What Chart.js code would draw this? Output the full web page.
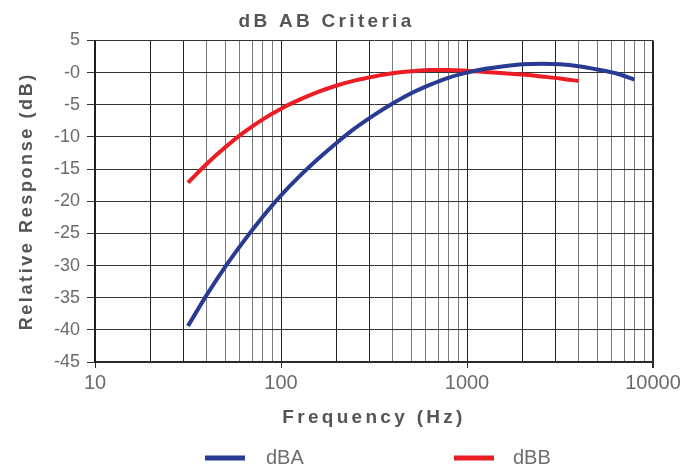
<!DOCTYPE html>
<html>
<head>
<meta charset="utf-8">
<script src="https://cdn.jsdelivr.net/npm/chart.js@4.4.1/dist/chart.umd.min.js"></script>
<style>
  html, body { margin: 0; padding: 0; background: #ffffff; }
  #wrap { width: 690px; height: 466px; }
</style>
</head>
<body>
<div id="wrap"><canvas id="c" width="690" height="466"></canvas></div>
<script>
// ---- data ----
const chartTitle = "dB AB Criteria";
const xTitle = "Frequency (Hz)";
const yTitle = "Relative Response (dB)";
const seriesNames = ["dBA", "dBB"];
const freqA = [31.62, 39.81, 50.12, 63.10, 79.43, 100, 125.9, 158.5, 199.5, 251.2, 316.2, 398.1, 501.2, 631.0, 794.3, 1000, 1259, 1585, 1995, 2512, 3162, 3981, 5012, 6310, 7943];
const valuesA = [-39.4, -34.6, -30.2, -26.2, -22.5, -19.1, -16.1, -13.4, -10.9, -8.6, -6.6, -4.8, -3.2, -1.9, -0.8, 0.0, 0.6, 1.0, 1.3, 1.4, 1.3, 1.0, 0.5, -0.1, -1.1];
const freqB = [31.62, 39.81, 50.12, 63.10, 79.43, 100, 125.9, 158.5, 199.5, 251.2, 316.2, 398.1, 501.2, 631.0, 794.3, 1000, 1259, 1585, 1995, 2512, 3162, 3981];
const valuesB = [-17.1, -14.2, -11.6, -9.3, -7.3, -5.6, -4.2, -3.0, -2.0, -1.2, -0.6, -0.1, 0.2, 0.4, 0.4, 0.3, 0.1, -0.1, -0.3, -0.6, -0.9, -1.3];
const xGridValues = [10,20,30,40,50,60,70,80,90,100,200,300,400,500,600,700,800,900,1000,2000,3000,4000,5000,6000,7000,8000,9000,10000];
const xLabelValues = [10, 100, 1000, 10000];
const yMin = -45, yMax = 5, yStep = 5;
const colors = ["#283a92", "#ec1c24"];

// ---- letter spacing for bold (title) text ----
const canvas = document.getElementById('c');
const ctx = canvas.getContext('2d');
function spacingFor(font) {
  if (!/bold/.test(font)) return '0px';
  return /18px/.test(font) ? '2.6px' : '3.3px';
}
const origFill = ctx.fillText;
ctx.fillText = function () { this.letterSpacing = spacingFor(this.font); return origFill.apply(this, arguments); };
const origMeasure = ctx.measureText;
ctx.measureText = function () { this.letterSpacing = spacingFor(this.font); return origMeasure.apply(this, arguments); };

const FONT = "'Liberation Sans', Arial, Helvetica, sans-serif";

const legendPlugin = {
  id: 'bottomLegend',
  afterDraw(chart) {
    const c = chart.ctx;
    const cx = (chart.chartArea.left + chart.chartArea.right) / 2;
    const y = 458;
    const items = [
      { box: cx - 169, text: cx - 108 },
      { box: cx + 80, text: cx + 139 }
    ];
    chart.data.datasets.forEach((ds, i) => {
      const it = items[i];
      c.save();
      c.fillStyle = ds.borderColor;
      c.fillRect(it.box, y - 2.5, 40, 5);
      c.font = "20px " + FONT;
      c.fillStyle = "#6e6e6e";
      c.textBaseline = 'middle';
      c.textAlign = 'left';
      c.fillText(ds.label, it.text, y);
      c.restore();
    });
  }
};

function isMajorDark(v) {
  const m = v / Math.pow(10, Math.floor(Math.log10(v) + 1e-9));
  return Math.abs(m - 1) < 1e-6 || Math.abs(m - 2) < 1e-6 || Math.abs(m - 3) < 1e-6;
}

new Chart(ctx, {
  type: 'line',
  data: {
    datasets: [
      {
        label: seriesNames[0],
        data: freqA.map((f, i) => ({ x: f, y: valuesA[i] })),
        borderColor: colors[0],
        backgroundColor: colors[0],
        borderWidth: 4,
        pointRadius: 0,
        cubicInterpolationMode: 'monotone',
        fill: false
      },
      {
        label: seriesNames[1],
        data: freqB.map((f, i) => ({ x: f, y: valuesB[i] })),
        borderColor: colors[1],
        backgroundColor: colors[1],
        borderWidth: 4,
        pointRadius: 0,
        cubicInterpolationMode: 'monotone',
        fill: false
      }
    ]
  },
  options: {
    responsive: false,
    animation: false,
    devicePixelRatio: 1,
    layout: { padding: { left: 0, right: 37, top: 0, bottom: 30 } },
    plugins: {
      legend: { display: false },
      tooltip: { enabled: false },
      title: {
        display: true,
        text: chartTitle,
        color: '#555555',
        font: { family: FONT, size: 19, weight: 'bold' },
        padding: { top: 10, bottom: 7.7 }
      }
    },
    scales: {
      x: {
        type: 'logarithmic',
        min: 10,
        max: 10000,
        afterBuildTicks(scale) {
          scale.ticks = xGridValues.map(v => ({ value: v, major: xLabelValues.includes(v) }));
        },
        afterFit(scale) { scale.height = 74; },
        ticks: {
          autoSkip: false,
          maxRotation: 0,
          minRotation: 0,
          padding: 3,
          color: '#6b6b6b',
          font: { family: FONT, size: 20 },
          callback(value) { return xLabelValues.includes(value) ? String(value) : ''; }
        },
        grid: {
          color(ctx2) { const v = ctx2.tick ? ctx2.tick.value : 0; return isMajorDark(v) ? '#222222' : '#7a7a7a'; },
          lineWidth(ctx2) { const v = ctx2.tick ? ctx2.tick.value : 0; return v === 10000 ? 2 : 1; },
          tickColor(ctx2) { const v = ctx2.tick ? ctx2.tick.value : 0; return xLabelValues.includes(v) ? '#2a2a2a' : 'rgba(0,0,0,0)'; },
          tickLength: 6,
          drawTicks: true
        },
        border: { display: true, color: '#2a2a2a', width: 2 },
        title: {
          display: true,
          text: xTitle,
          color: '#555555',
          font: { family: FONT, size: 19, weight: 'bold' },
          padding: { top: 0, bottom: 6.6 }
        }
      },
      y: {
        type: 'linear',
        min: yMin,
        max: yMax,
        afterFit(scale) { scale.width = 95; },
        ticks: {
          stepSize: yStep,
          padding: 7,
          color: '#6b6b6b',
          font: { family: FONT, size: 18 },
          callback(value) { return value === 0 ? '-0' : String(value); }
        },
        grid: {
          color: '#333333',
          lineWidth: 1,
          tickColor: '#333333',
          tickLength: 8,
          drawTicks: true
        },
        border: { display: true, color: '#1e1e1e', width: 2 },
        title: {
          display: true,
          text: yTitle,
          color: '#555555',
          font: { family: FONT, size: 18, weight: 'bold' },
          padding: { top: 16, bottom: 0 }
        }
      }
    }
  },
  plugins: [legendPlugin]
});
</script>
</body>
</html>
